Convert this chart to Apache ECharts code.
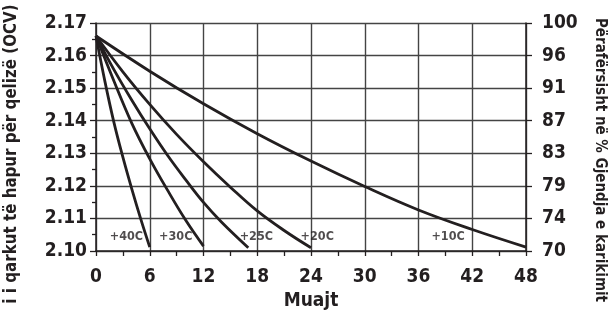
<!DOCTYPE html>
<html>
<head>
<meta charset="utf-8">
<script src="https://cdn.jsdelivr.net/npm/echarts@6/dist/echarts.min.js"></script>
<style>
  html, body { margin: 0; padding: 0; background: #fff; }
  #chart { width: 608px; height: 313px; }
</style>
</head>
<body>
<div id="chart"></div>
<script>
// months on the x axis, open circuit voltage per cell on the left axis
var xTicks = [0, 6, 12, 18, 24, 30, 36, 42, 48];
var socLabels = ['70', '74', '79', '83', '87', '91', '96', '100'];

var months40 = [0, 1, 2, 3, 4, 5, 6];
var ocv40 = [2.166, 2.1520, 2.1395, 2.1288, 2.1190, 2.1098, 2.1012];

var months30 = [0, 2, 4, 6, 8, 10, 12];
var ocv30 = [2.166, 2.1522, 2.1392, 2.1283, 2.1186, 2.1095, 2.1015];

var months25 = [0, 2, 4, 6, 8, 10, 12, 14, 17];
var ocv25 = [2.166, 2.1557, 2.1463, 2.1375, 2.1293, 2.1219, 2.1149, 2.1089, 2.1010];

var months20 = [0, 3, 6, 9, 12, 15, 18, 21, 24];
var ocv20 = [2.166, 2.1550, 2.1450, 2.1358, 2.1274, 2.1196, 2.1123, 2.1063, 2.1010];

var months10 = [0, 6, 12, 18, 24, 30, 36, 42, 48];
var ocv10 = [2.166, 2.1552, 2.1452, 2.1360, 2.1276, 2.1198, 2.1126, 2.1066, 2.1012];

var tempNames = ['+40C', '+30C', '+25C', '+20C', '+10C'];
var tempLabelAt = [[3.4, 2.1045], [8.9, 2.1045], [17.9, 2.1045], [24.7, 2.1045], [39.3, 2.1045]];

var font = '"DejaVu Sans Condensed", "Liberation Sans", Arial, sans-serif';
var ink = '#231f20';

function pairs(xs, ys) {
    return xs.map(function (x, i) { return [x, ys[i]]; });
}

var curves = [
    pairs(months40, ocv40),
    pairs(months30, ocv30),
    pairs(months25, ocv25),
    pairs(months20, ocv20),
    pairs(months10, ocv10)
];

var chart = echarts.init(document.getElementById('chart'));

var series = curves.map(function (d, i) {
    return {
        name: tempNames[i],
        type: 'line',
        data: d,
        smooth: 0.4,
        showSymbol: false,
        lineStyle: { color: ink, width: 2.8 },
        z: 5
    };
});

series.push({
    type: 'scatter',
    symbolSize: 0,
    data: tempLabelAt.map(function (p, i) { return { value: p, name: tempNames[i] }; }),
    label: {
        show: true,
        position: 'inside',
        formatter: '{b}',
        color: ink,
        fontFamily: font,
        fontWeight: 'bold',
        fontSize: 12.5
    },
    z: 6
});

var yBase = {
    type: 'value',
    min: 2.10,
    max: 2.17,
    interval: 0.01,
    axisLine: { show: true, lineStyle: { color: ink, width: 1.5 } },
    axisTick: { show: true, length: 6, lineStyle: { color: ink, width: 1.3 } },
    splitLine: { show: false }
};

var option = {
    animation: false,
    backgroundColor: '#fff',
    grid: { left: 96, right: 82, top: 23, bottom: 62, outerBoundsMode: 'none', containLabel: false },
    xAxis: {
        type: 'value',
        min: 0,
        max: 48,
        interval: 6,
        name: 'Muajt',
        nameLocation: 'middle',
        nameGap: 40,
        nameTextStyle: { color: ink, fontFamily: font, fontWeight: 'bold', fontSize: 19 },
        axisLine: { onZero: false, lineStyle: { color: ink, width: 1.5 } },
        axisTick: { show: true, length: 5, lineStyle: { color: ink, width: 1.3 } },
        minorTick: { show: true, splitNumber: 2, length: 5, lineStyle: { color: ink, width: 1.3 } },
        axisLabel: {
            margin: 17,
            color: ink, fontFamily: font, fontWeight: 'bold', fontSize: 19,
            formatter: function (v) { return xTicks.indexOf(v) >= 0 ? String(v) : ''; }
        },
        splitLine: { show: true, lineStyle: { color: '#444', width: 1.4 } }
    },
    yAxis: [
        Object.assign({}, yBase, {
            position: 'left',
            name: 'i i qarkut të hapur për qelizë (OCV)',
            nameLocation: 'middle',
            nameGap: 76,
            nameRotate: 90,
            nameTextStyle: {
                color: ink, fontFamily: font, fontWeight: 'bold', fontSize: 16.8,
                padding: [0, 34, 0, 0]
            },
            minorTick: { show: true, splitNumber: 2, length: 4, lineStyle: { color: ink, width: 1.3 } },
            axisLabel: {
                margin: 9,
                color: ink, fontFamily: font, fontWeight: 'bold', fontSize: 19,
                formatter: function (v) { return v.toFixed(2); }
            },
            splitLine: { show: true, lineStyle: { color: '#444', width: 1.4 } }
        }),
        Object.assign({}, yBase, {
            position: 'right',
            name: 'Përafërsisht në % Gjendja e karikimit',
            nameLocation: 'middle',
            nameGap: 66,
            nameRotate: -90,
            nameTextStyle: {
                color: ink, fontFamily: font, fontWeight: 'bold', fontSize: 15,
                padding: [0, 0, 0, 46]
            },
            axisLabel: {
                margin: 16,
                color: ink, fontFamily: font, fontWeight: 'bold', fontSize: 19,
                formatter: function (v) {
                    var i = Math.round((v - 2.10) * 100);
                    return socLabels[i] || '';
                }
            }
        })
    ],
    series: series
};

chart.setOption(option);
</script>
</body>
</html>
